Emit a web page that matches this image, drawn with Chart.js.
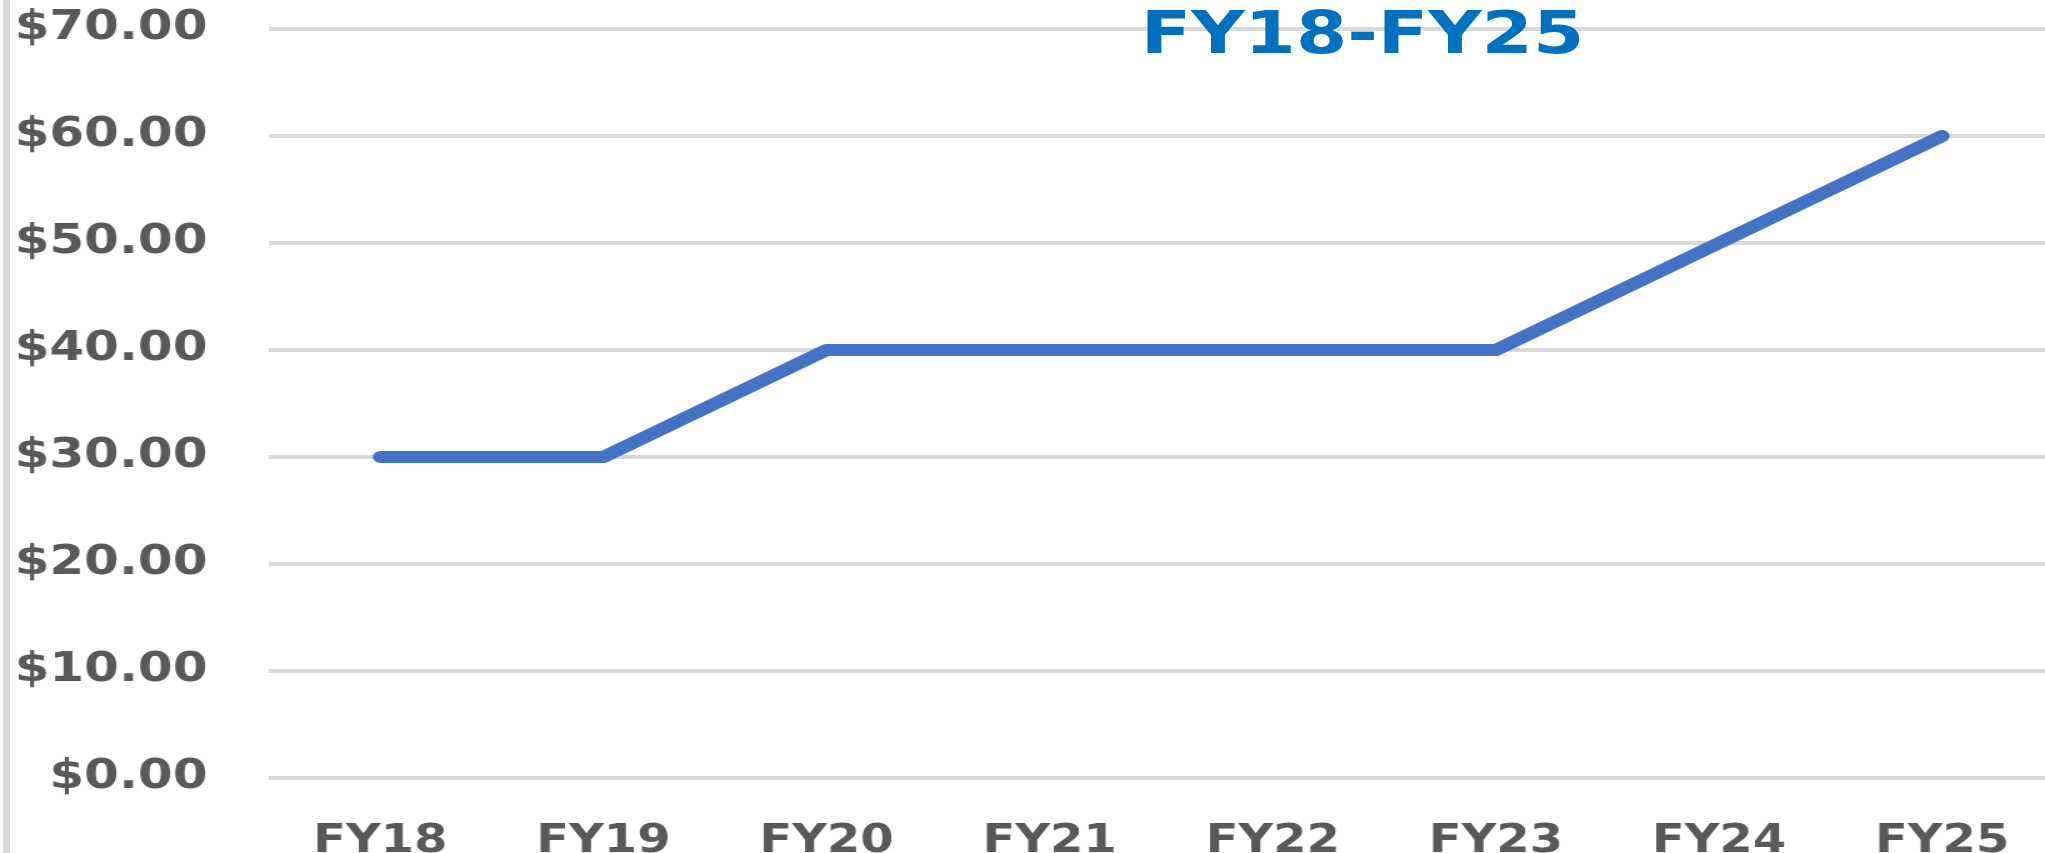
<!DOCTYPE html>
<html>
<head>
<meta charset="utf-8">
<script src="https://cdn.jsdelivr.net/npm/chart.js@4.4.1/dist/chart.umd.min.js"></script>
<style>
    html, body { margin: 0; padding: 0; background: #fff; overflow: hidden; }
    body { width: 2045px; height: 853px; position: relative; }
    #edge { position: absolute; left: 3px; top: 0; width: 7px; height: 853px; background: #d9d9d9; }
    /* the source picture is stretched sideways, so the whole chart is too */
    #wrap { position: absolute; left: 0; top: 0; width: 1649px; height: 853px; transform: scaleX(1.25); transform-origin: 0 0; }
    #title { position: absolute; top: 3px; left: 790px; width: 600px; text-align: center;
             font-family: "DejaVu Sans", sans-serif; font-weight: bold; font-size: 59px; line-height: 1;
             color: #0070C0; z-index: 2; }
</style>
</head>
<body>
<div id="edge"></div>
<div id="wrap">
    <div id="title">FY18-FY25</div>
    <canvas id="priceChart"></canvas>
</div>
<script>
const years = ["FY18", "FY19", "FY20", "FY21", "FY22", "FY23", "FY24", "FY25"];
const prices = [30, 30, 40, 40, 40, 40, 50, 60];
const yTicks = [0, 10, 20, 30, 40, 50, 60, 70];

const ctx = document.getElementById("priceChart").getContext("2d");
const chart = new Chart(ctx, {
    type: 'line',
    data: {
        labels: years,
        datasets: [{
            data: prices,
            borderColor: '#4472C4',
            borderWidth: 12,
            borderCapStyle: 'round',
            borderJoinStyle: 'round',
            pointRadius: 0,
            tension: 0
        }]
    },
    options: {
        responsive: true,
        maintainAspectRatio: false,
        animation: false,
        layout: { padding: { top: 29, left: 0, right: 0, bottom: 0 } },
        plugins: {
            legend: { display: false },
            tooltip: { enabled: false }
        },
        scales: {
            x: {
                offset: true,
                grid: { display: false },
                border: { display: false },
                ticks: { color: '#595959', font: { family: "DejaVu Sans", size: 38.4, weight: "bold" }, padding: 33, maxRotation: 0 },
                afterFit: scale => { scale.height = 75; }
            },
            y: {
                min: yTicks[0],
                max: yTicks[yTicks.length - 1],
                afterBuildTicks: scale => { scale.ticks = yTicks.map(v => ({ value: v })); },
                grid: { color: '#d9d9d9', lineWidth: 4, drawTicks: false },
                border: { display: false },
                ticks: {
                    color: '#595959',
                    font: { family: "DejaVu Sans", size: 40, weight: "bold" },
                    padding: 49,
                    callback: v => '$' + Number(v).toFixed(2)
                },
                afterFit: scale => {
                    // the tick padding is only meant as a horizontal gap
                    scale.width = 215;
                    scale.paddingTop = 20;
                    scale.paddingBottom = 20;
                }
            }
        }
    }
});
</script>
</body>
</html>
